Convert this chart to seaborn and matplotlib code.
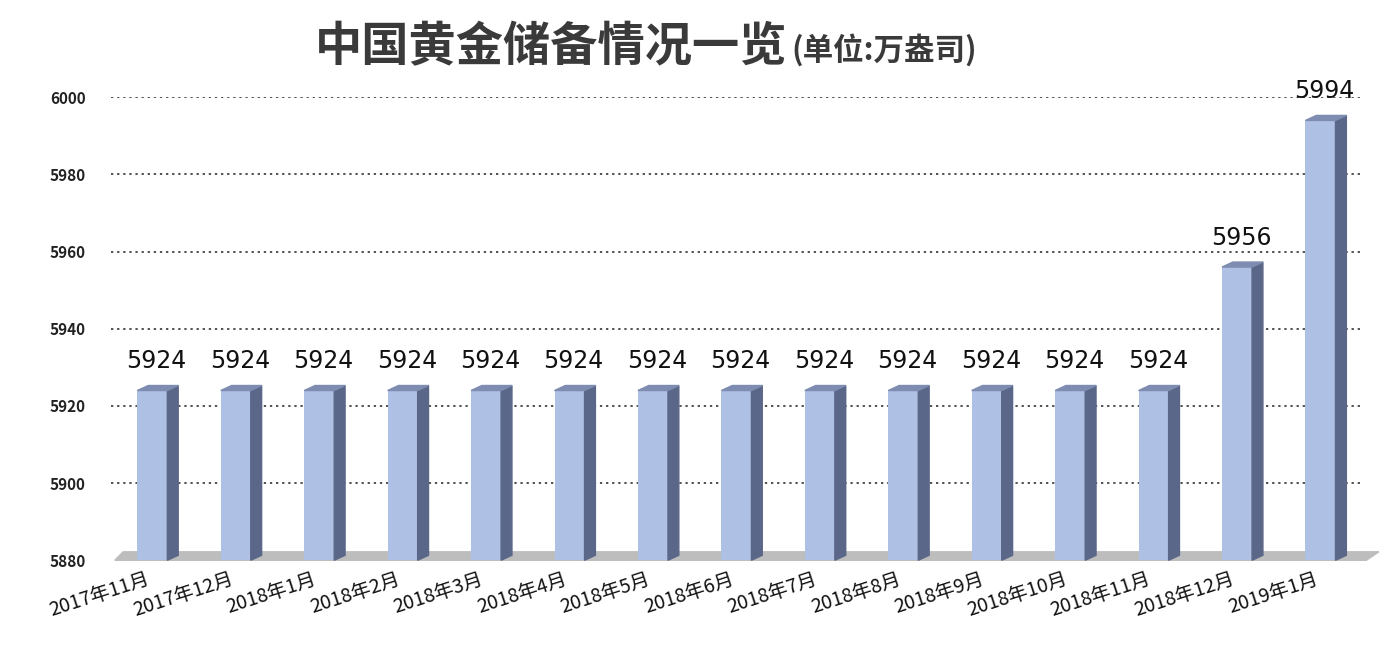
import matplotlib
matplotlib.use("Agg")
import matplotlib.pyplot as plt
import seaborn as sns
import pandas as pd
from matplotlib.patches import Polygon

months = ["2017年11月","2017年12月","2018年1月","2018年2月","2018年3月","2018年4月","2018年5月",
          "2018年6月","2018年7月","2018年8月","2018年9月","2018年10月","2018年11月","2018年12月","2019年1月"]
reserves = [5924,5924,5924,5924,5924,5924,5924,5924,5924,5924,5924,5924,5924,5956,5994]
yticks = [5880,5900,5920,5940,5960,5980,6000]

sns.set_theme(style="white")
plt.rcParams['font.family'] = ['Noto Sans CJK SC', 'DejaVu Sans']

df = pd.DataFrame({"month": months, "value": reserves})
fig = plt.figure(figsize=(14, 6.71), dpi=100)
ax = fig.add_axes([0.079, 0.165, 0.894, 0.69])
ymin, ymax = 5880, 6000
sns.barplot(data=df, x="month", y="value", color="#aec0e4", width=0.36, ax=ax,
            saturation=1, edgecolor="none", zorder=3)
ax.set_ylim(ymin, ymax)
ax.set_xlim(-0.5, len(months) - 0.5)
bars = list(ax.patches)

# floor
ax.add_patch(Polygon([(-0.45, ymin), (-0.35, ymin + 2.2), (len(months) - 0.3, ymin + 2.2),
                      (len(months) - 0.45, ymin)], closed=True, color="#bdbdbd", zorder=1, clip_on=False))
for t in yticks[1:]:
    ax.axhline(t, color="#222222", ls=(0, (1.5, 2.5)), lw=1.1, zorder=0)

# 3D side and top faces from bar patches
dx, dy = 0.13, 1.3
for p in bars:
    x0, w = p.get_x(), p.get_width()
    top = p.get_y() + p.get_height()
    x1 = x0 + w
    ax.add_patch(Polygon([(x1, ymin), (x1 + dx, ymin + dy), (x1 + dx, top + dy), (x1, top)],
                         closed=True, color="#5b6788", zorder=3, clip_on=False))
    ax.add_patch(Polygon([(x0, top), (x0 + dx, top + dy), (x1 + dx, top + dy), (x1, top)],
                         closed=True, color="#7d8cb0", zorder=3, clip_on=False))

for i, v in enumerate(reserves):
    ax.text(i + 0.05, v + 4.5, str(v), ha="center", va="bottom", fontsize=17, color="#111111",
            family="DejaVu Sans")

ax.set_yticks(yticks)
ax.set_yticklabels([str(t) for t in yticks], fontsize=11, fontweight="bold", color="#222222")
ax.tick_params(axis="y", pad=18, length=0)
ax.set_xticks(range(len(months)))
ax.set_xticklabels(months, rotation=18, ha="right", fontsize=14, color="#111111")
ax.tick_params(axis="x", length=0, pad=6)
ax.set_xlabel("")
ax.set_ylabel("")
for s in ax.spines.values():
    s.set_visible(False)

fig.text(0.225, 0.93, "中国黄金储备情况一览", fontsize=34, fontweight="bold", color="#3a3a3a", va="center")
fig.text(0.565, 0.925, "(单位:万盎司)", fontsize=22, fontweight="bold", color="#3a3a3a", va="center")

fig.savefig("out.png", dpi=100, facecolor="white")
